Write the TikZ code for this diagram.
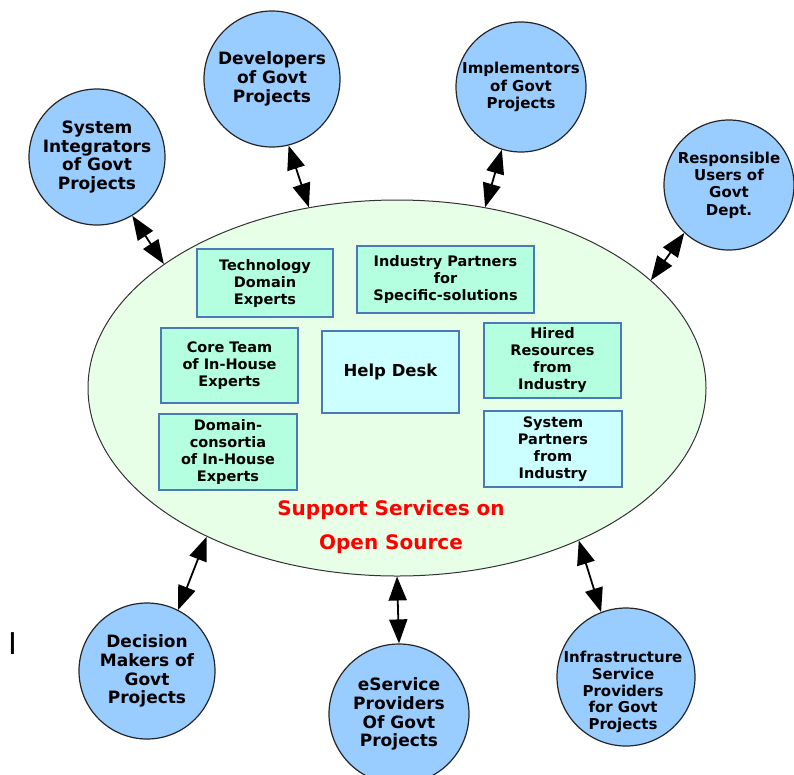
\documentclass[tikz,border=0pt]{standalone}
\usepackage{fontspec}
\setmainfont{DejaVu Sans}
\usepackage{xcolor}
\usetikzlibrary{arrows.meta,shapes.geometric}
\definecolor{hubfill}{HTML}{E6FFE6}
\definecolor{actorfill}{HTML}{99CCFF}
\definecolor{teamfill}{HTML}{B3FFE0}
\definecolor{deskfill}{HTML}{CCFFFF}
\definecolor{teamline}{HTML}{4A7AB5}
\tikzset{
  hub/.style={ellipse, draw=black!80, fill=hubfill, line width=1pt, minimum width=618pt, minimum height=376pt, inner sep=0pt},
  actor/.style={circle, draw=black!85, fill=actorfill, line width=1.2pt, minimum size=136pt, inner sep=0pt, align=center, font=\bfseries\fontsize{17}{18.8}\selectfont},
  smallactor/.style={actor, minimum size=130pt, font=\bfseries\fontsize{15}{17.3}\selectfont},
  actortext/.style={inner sep=0pt, align=center, font=\bfseries\fontsize{15}{16.7}\selectfont},
  team/.style={draw=teamline, fill=teamfill, line width=1.2pt, inner sep=0pt, align=center, font=\bfseries\fontsize{14.5}{17}\selectfont},
  desk/.style={team, fill=deskfill},
  link/.style={{Triangle[length=24pt,width=18pt]}-{Triangle[length=24pt,width=18pt]}, line width=1.8pt},
}

\begin{document}
\begin{tikzpicture}[x=1pt, y=-1pt]
  \useasboundingbox (0,0) rectangle (794,774);

  \node[hub] (hub) at (397,388) {};

  \node[team, minimum width=136pt, minimum height=68pt] (tech) at (265,283) {Technology\\Domain\\Experts};
  \node[team, minimum width=177pt, minimum height=67pt] (partners) at (445.5,279.5) {Industry Partners\\for\\Specific-solutions};
  \node[team, minimum width=137pt, minimum height=75pt] (core) at (229.5,365.5) {Core Team\\of In-House\\Experts};
  \node[desk, minimum width=137pt, minimum height=82pt, font=\bfseries\fontsize{16.5}{19}\selectfont] (help) at (390.5,372) {Help Desk};
  \node[team, minimum width=137pt, minimum height=75pt] (hired) at (552.5,360.5) {Hired\\Resources\\from\\Industry};
  \node[team, minimum width=138pt, minimum height=76pt] (consortia) at (228,452) {Domain-\\consortia\\of In-House\\Experts};
  \node[desk, minimum width=138pt, minimum height=76pt] (syspart) at (553,449) {System\\Partners\\from\\Industry};

  \node[text=red, align=center, font=\bfseries\fontsize{20}{34}\selectfont] (title) at (391,527) {Support Services on\\Open Source};

  \node[actor] (integrators) at (97,157) {System\\Integrators\\of Govt\\Projects};
  \node[actor] (developers) at (272,79) {Developers\\of Govt\\Projects};
  \node[smallactor] (implementors) at (521,87) {Implementors\\of Govt\\Projects};
  \node[smallactor] (users) at (729,185) {Responsible\\Users of\\Govt\\Dept.};
  \node[actor] (deciders) at (147,671) {Decision\\Makers of\\Govt\\Projects};
  \node[actor, minimum size=140pt] (eservice) at (399,714) {eService\\Providers\\Of Govt\\Projects};
  \node[smallactor, minimum size=138pt] (infra) at (626,677) {};
  \node[actortext] (infratext) at (623,692) {Infrastructure\\Service\\Providers\\for Govt\\Projects};

  \node[inner sep=0pt, font=\fontsize{30}{30}\selectfont] (mark) at (12.5,644) {I};

  \draw[link] (integrators.301) -- (hub.152);
  \draw[link] (developers.284) -- (hub.116);
  \draw[link] (implementors.253) -- (hub.64);
  \draw[link] (users.227) -- (hub.23);
  \draw[link] (deciders.63) -- (hub.218);
  \draw[link] (eservice.90) -- (hub.270);
  \draw[link] (infra.111) -- (hub.320);
\end{tikzpicture}
\end{document}
